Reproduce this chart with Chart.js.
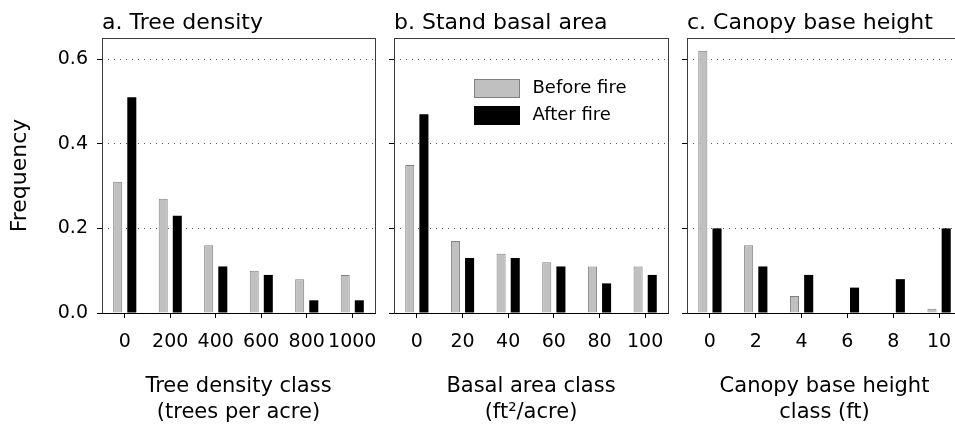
<!DOCTYPE html>
<html>
<head>
<meta charset="utf-8">
<script src="https://cdn.jsdelivr.net/npm/chart.js@4/dist/chart.umd.min.js"></script>
<style>
html,body{margin:0;padding:0;background:#fff;overflow:hidden;width:955px;height:435px;position:relative;}
.p{position:absolute;top:0;height:435px;}
canvas{display:block;}
</style>
</head>
<body>
<div class="p" style="left:0px;width:380px"><canvas id="ca" width="380" height="435"></canvas></div>
<div class="p" style="left:380px;width:295px"><canvas id="cb" width="295" height="435"></canvas></div>
<div class="p" style="left:672px;width:300px"><canvas id="cc" width="300" height="435"></canvas></div>
<script>
// ---- data ----
const seriesNames = ['Before fire', 'After fire'];
const yTickValues = [0, 0.2, 0.4, 0.6];

const densityClasses = ['0', '200', '400', '600', '800', '1000'];
const densityBefore = [0.31, 0.27, 0.16, 0.10, 0.08, 0.09];
const densityAfter  = [0.51, 0.23, 0.11, 0.09, 0.03, 0.03];

const basalClasses = ['0', '20', '40', '60', '80', '100'];
const basalBefore = [0.35, 0.17, 0.14, 0.12, 0.11, 0.11];
const basalAfter  = [0.47, 0.13, 0.13, 0.11, 0.07, 0.09];

const cbhClasses = ['0', '2', '4', '6', '8', '10'];
const cbhBefore = [0.62, 0.16, 0.04, 0, 0, 0.01];
const cbhAfter  = [0.20, 0.11, 0.09, 0.06, 0.08, 0.20];

const panelTitles = ['a. Tree density', 'b. Stand basal area', 'c. Canopy base height'];
const xTitles = [
  ['Tree density class', '(trees per acre)'],
  ['Basal area class', '(ft\u00B2/acre)'],
  ['Canopy base height', 'class (ft)']
];
const yTitle = 'Frequency';

// ---- styling ----
const FONT = "'DejaVu Sans', sans-serif";
Chart.defaults.font.family = FONT;
Chart.defaults.color = '#000';

const panelTitlePlugin = {
  id: 'panelTitle',
  afterDraw(chart, args, opts) {
    const {ctx, chartArea} = chart;
    ctx.save();
    ctx.font = opts.size + 'px ' + FONT;
    ctx.fillStyle = '#000';
    ctx.textAlign = 'left';
    ctx.textBaseline = 'alphabetic';
    ctx.fillText(opts.text, chartArea.left, opts.baseline);
    ctx.restore();
  }
};

const framePlugin = {
  id: 'frame',
  afterDatasetsDraw(chart) {
    const {ctx, chartArea: a} = chart;
    const l = Math.round(a.left) + 0.5, r = Math.round(a.right) + 0.5;
    const t = Math.round(a.top) + 0.5, b = Math.round(a.bottom) + 0.5;
    ctx.save();
    ctx.lineWidth = 1;
    ctx.strokeStyle = '#3a3a3a';
    ctx.strokeRect(l, t, r - l, b - t);
    ctx.strokeStyle = '#000';
    ctx.beginPath(); ctx.moveTo(l, b); ctx.lineTo(r, b); ctx.stroke();
    ctx.restore();
  }
};

const boxLegendPlugin = {
  id: 'boxLegend',
  afterDraw(chart, args, opts) {
    if (!opts.show) return;
    const {ctx, chartArea: a} = chart;
    ctx.save();
    ctx.font = opts.size + 'px ' + FONT;
    ctx.textAlign = 'left';
    ctx.textBaseline = 'middle';
    chart.data.datasets.forEach((ds, i) => {
      const x = Math.round(a.left + opts.dx) + 0.5;
      const y = Math.round(a.top + opts.dy + i * opts.rowGap) + 0.5;
      ctx.fillStyle = ds.backgroundColor;
      ctx.fillRect(x, y, opts.boxW, opts.boxH);
      ctx.strokeStyle = ds.legendBorder;
      ctx.lineWidth = 1;
      ctx.strokeRect(x, y, opts.boxW, opts.boxH);
      ctx.fillStyle = '#000';
      ctx.fillText(ds.label, x + opts.boxW + 13, y + opts.boxH / 2);
    });
    ctx.restore();
  }
};

function makePanel(id, idx, labels, before, after, o) {
  return new Chart(document.getElementById(id), {
    type: 'bar',
    data: {
      labels: labels,
      datasets: [
        { label: seriesNames[0], data: before, backgroundColor: '#c0c0c0', borderColor: '#808080', legendBorder: '#808080', borderWidth: 1 },
        { label: seriesNames[1], data: after, backgroundColor: '#000000', borderColor: '#000000', legendBorder: '#000000', borderWidth: 0 }
      ]
    },
    options: {
      responsive: false,
      animation: false,
      devicePixelRatio: 1,
      layout: { padding: { top: 38, right: o.padRight, left: 0, bottom: 0 } },
      datasets: { bar: { categoryPercentage: 0.62, barPercentage: 0.64 } },
      plugins: {
        legend: { display: false },
        tooltip: { enabled: false },
        title: { display: false },
        panelTitle: { text: panelTitles[idx], size: 22, baseline: 29 },
        boxLegend: { show: !!o.legend, dx: 80, dy: 41, rowGap: 27, boxW: 45, boxH: 18, size: 18 }
      },
      scales: {
        x: {
          type: 'category',
          offset: true,
          grid: { offset: false, drawOnChartArea: false, drawTicks: true, tickLength: 5, color: '#000', tickColor: '#000', lineWidth: 1 },
          border: { display: false },
          ticks: { font: { size: 19 }, padding: 13, color: '#000', maxRotation: 0, autoSkip: false },
          title: { display: true, text: xTitles[idx], font: { size: 21, lineHeight: 1.24 }, color: '#000', padding: { top: 0, bottom: 9 } },
          afterFit: s => { s.height = 122; s.paddingLeft = 0; s.paddingRight = 0; }
        },
        y: {
          min: 0,
          max: 0.65,
          afterBuildTicks: s => { s.ticks = yTickValues.map(v => ({ value: v })); },
          grid: {
            drawOnChartArea: true,
            drawTicks: true,
            tickLength: 5,
            lineWidth: 1,
            color: c => (c.tick && c.tick.value === 0) ? 'rgba(0,0,0,0)' : '#555',
            tickColor: '#000',
            tickBorderDash: []
          },
          border: { display: false, dash: [1, 5] },
          ticks: { display: o.yLabels, font: { size: 19 }, padding: 9, color: '#000', callback: v => Number(v).toFixed(1) },
          title: { display: o.yLabels, text: yTitle, font: { size: 22 }, color: '#000', padding: { top: 7, bottom: 0 } },
          afterFit: s => { s.width = o.yWidth; s.paddingTop = 0; s.paddingBottom = 0; }
        }
      }
    },
    plugins: [panelTitlePlugin, framePlugin, boxLegendPlugin]
  });
}

makePanel('ca', 0, densityClasses, densityBefore, densityAfter, { yWidth: 102, padRight: 5, yLabels: true, legend: false });
makePanel('cb', 1, basalClasses, basalBefore, basalAfter, { yWidth: 14, padRight: 7, yLabels: false, legend: true });
makePanel('cc', 2, cbhClasses, cbhBefore, cbhAfter, { yWidth: 15, padRight: 10, yLabels: false, legend: false });
</script>
</body>
</html>
